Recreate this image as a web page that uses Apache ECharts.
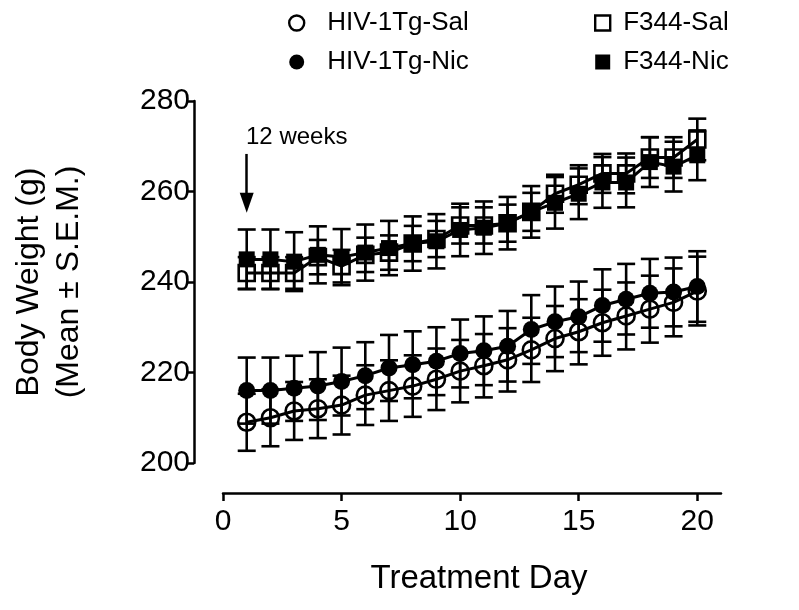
<!DOCTYPE html>
<html>
<head>
<meta charset="utf-8">
<script src="https://cdn.jsdelivr.net/npm/echarts@6/dist/echarts.min.js"></script>
<style>
  html, body { margin: 0; padding: 0; background: #fff; }
  #chart { width: 799px; height: 610px; }
</style>
</head>
<body>
<div id="chart"></div>
<script>
// treatment days
const days = [1, 2, 3, 4, 5, 6, 7, 8, 9, 10, 11, 12, 13, 14, 15, 16, 17, 18, 19, 20];

// group means (g)
const hivSal = [209, 210, 211.5, 212, 212.8, 215, 216, 217, 218.5, 220.3, 221.5, 222.8, 225, 227.5, 229, 231, 232.5, 234, 235.5, 238];
const hivNic = [216, 216, 216.5, 217, 218, 219.3, 221, 221.7, 222.5, 224.2, 224.8, 225.8, 229.5, 231.2, 232.3, 234.8, 236.2, 237.5, 237.8, 239];
const f344Sal = [242, 242, 242, 245.5, 243.5, 246, 246.5, 248.5, 249.5, 252.5, 252.5, 253, 255.5, 259.5, 261.5, 264, 264, 267.5, 267.5, 271.5];
const f344Nic = [245, 245, 244.5, 246, 245.5, 246.5, 247.5, 248.5, 249, 251.5, 252, 253, 255.5, 257.5, 259.5, 262, 262, 266.5, 265.5, 268];

// S.E.M.
const hivSalSem = [6.3, 6.3, 6.4, 6.5, 6.5, 6.6, 6.7, 6.8, 6.8, 6.9, 7, 7, 7.1, 7.2, 7.2, 7.3, 7.4, 7.4, 7.5, 7.6];
const hivNicSem = [7.3, 7.3, 7.2, 7.5, 7.5, 7.4, 7.3, 7.4, 7.5, 7.5, 7.6, 7.8, 7.6, 7.8, 7.8, 8, 7.8, 7.6, 7.6, 7.8];
const f344SalSem = [3.5, 3.5, 3.5, 3.8, 3.6, 3.8, 3.8, 3.9, 4, 4, 4, 4.1, 4.2, 4.2, 4.3, 4.3, 4.4, 4.5, 4.5, 4.6];
const f344NicSem = [6.6, 6.6, 6.5, 6.3, 6.2, 6.2, 6, 6, 6, 5.8, 5.8, 5.8, 5.7, 5.7, 5.6, 5.6, 5.5, 5.5, 5.5, 5.5];

const yTicks = [200, 220, 240, 260, 280];
const xTicks = [0, 5, 10, 15, 20];

const FONT = 'Liberation Sans, Arial, sans-serif';

const errData = (means, sems) => days.map((d, i) => [d, means[i] - sems[i], means[i] + sems[i]]);
const lineData = (means) => days.map((d, i) => [d, means[i]]);

function renderErr(params, api) {
    const lo = api.coord([api.value(0), api.value(1)]);
    const hi = api.coord([api.value(0), api.value(2)]);
    const half = 9;
    const st = { stroke: '#000', lineWidth: 2.6 };
    return {
        type: 'group',
        children: [
            { type: 'line', shape: { x1: hi[0], y1: hi[1], x2: lo[0], y2: lo[1] }, style: st },
            { type: 'line', shape: { x1: hi[0] - half, y1: hi[1], x2: hi[0] + half, y2: hi[1] }, style: st },
            { type: 'line', shape: { x1: lo[0] - half, y1: lo[1], x2: lo[0] + half, y2: lo[1] }, style: st }
        ]
    };
}

const groups = [
    { name: 'HIV-1Tg-Sal', means: hivSal, sems: hivSalSem, symbol: 'circle', hollow: true },
    { name: 'HIV-1Tg-Nic', means: hivNic, sems: hivNicSem, symbol: 'circle', hollow: false },
    { name: 'F344-Sal', means: f344Sal, sems: f344SalSem, symbol: 'rect', hollow: true },
    { name: 'F344-Nic', means: f344Nic, sems: f344NicSem, symbol: 'rect', hollow: false }
];

const series = [];
groups.forEach((g) => {
    series.push({
        type: 'custom',
        name: g.name + ' err',
        renderItem: renderErr,
        data: errData(g.means, g.sems),
        clip: false,
        z: 2,
        silent: true
    });
});
groups.forEach((g) => {
    series.push({
        type: 'line',
        name: g.name,
        data: lineData(g.means),
        symbol: g.symbol,
        symbolSize: g.symbol === 'circle' ? 17 : 16,
        showAllSymbol: true,
        clip: false,
        z: g.hollow ? 3 : 4,
        lineStyle: { color: '#000', width: 3 },
        itemStyle: g.hollow
            ? { color: 'rgba(0,0,0,0)', borderColor: '#000', borderWidth: 2.6 }
            : { color: '#000', borderColor: '#000', borderWidth: 0 }
    });
});

// "12 weeks" arrow at day 1
series[4].markLine = {
    silent: true,
    symbol: ['none', 'triangle'],
    symbolSize: [14, 20],
    lineStyle: { color: '#000', width: 2.5, type: 'solid' },
    label: {
        show: true,
        position: 'start',
        formatter: '12 weeks',
        color: '#000',
        fontFamily: FONT,
        fontSize: 24,
        distance: 5,
        offset: [50, 0]
    },
    data: [[{ coord: [1, 268.3] }, { coord: [1, 257.5] }]]
};

const legendText = { color: '#000', fontFamily: FONT, fontSize: 26 };

const option = {
    animation: false,
    backgroundColor: '#fff',
    legend: [
        {
            orient: 'vertical', left: 283, top: 5, itemWidth: 15, itemHeight: 15, itemGap: 13,
            textStyle: Object.assign({ padding: [0, 0, 0, 18] }, legendText),
            data: [
                { name: 'HIV-1Tg-Sal', icon: 'circle', itemStyle: { color: 'rgba(0,0,0,0)', borderColor: '#000', borderWidth: 2.4 } },
                { name: 'HIV-1Tg-Nic', icon: 'circle', itemStyle: { color: '#000', borderWidth: 0 } }
            ]
        },
        {
            orient: 'vertical', left: 589, top: 5, itemWidth: 15, itemHeight: 15, itemGap: 13,
            textStyle: Object.assign({ padding: [0, 0, 0, 8] }, legendText),
            data: [
                { name: 'F344-Sal', icon: 'rect', itemStyle: { color: 'rgba(0,0,0,0)', borderColor: '#000', borderWidth: 2.4 } },
                { name: 'F344-Nic', icon: 'rect', itemStyle: { color: '#000', borderWidth: 0 } }
            ]
        }
    ],
    grid: { left: 223, right: 78, top: 101, bottom: 147 },
    xAxis: {
        type: 'value',
        min: 0,
        max: 21,
        interval: 5,
        offset: 30,
        name: 'Treatment Day',
        nameLocation: 'middle',
        nameGap: 69,
        nameTextStyle: { color: '#000', fontFamily: FONT, fontSize: 33, padding: [0, 0, 0, 14] },
        axisLine: { onZero: false, lineStyle: { color: '#000', width: 2.5 } },
        axisTick: { length: 8, lineStyle: { color: '#000', width: 2.5 } },
        axisLabel: {
            color: '#000', fontFamily: FONT, fontSize: 30, margin: 14,
            showMaxLabel: false,
            formatter: (v) => (xTicks.indexOf(v) >= 0 ? String(v) : '')
        },
        splitLine: { show: false }
    },
    yAxis: {
        type: 'value',
        min: yTicks[0],
        max: yTicks[yTicks.length - 1],
        interval: 20,
        offset: 29,
        name: 'Body Weight (g)\n(Mean \u00b1 S.E.M.)',
        nameLocation: 'middle',
        nameRotate: 90,
        nameGap: 105,
        nameTextStyle: { color: '#000', fontFamily: FONT, fontSize: 32, lineHeight: 40 },
        axisLine: { show: true, onZero: false, lineStyle: { color: '#000', width: 2.5 } },
        axisTick: { show: true, length: 6, lineStyle: { color: '#000', width: 2.5 } },
        axisLabel: { color: '#000', fontFamily: FONT, fontSize: 30, margin: 4 },
        splitLine: { show: false }
    },
    series: series
};

const chart = echarts.init(document.getElementById('chart'), null, { renderer: 'canvas' });
chart.setOption(option);
</script>
</body>
</html>
